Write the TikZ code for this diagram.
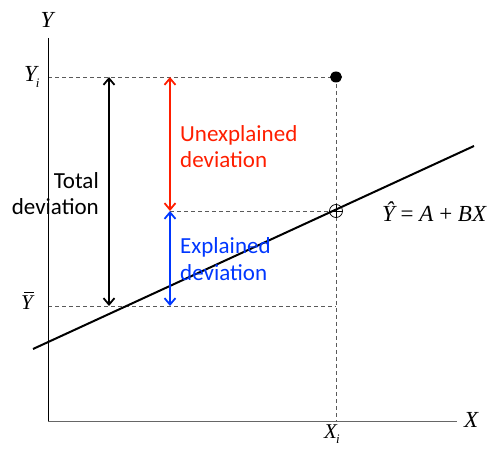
\documentclass[tikz,border=0pt]{standalone}
\usepackage{fontspec}
\setmainfont{Liberation Serif}
\newfontfamily\carlitofont{Carlito}
\usetikzlibrary{arrows.meta,shapes.geometric}
\definecolor{myred}{RGB}{255,30,0}
\definecolor{myblue}{RGB}{0,55,255}
\definecolor{dashgray}{RGB}{90,90,90}
\tikzset{
  dashline/.style={dashgray, dash pattern=on 4pt off 3pt, line width=0.8pt},
  devarrow/.style={line width=1.8pt, {Straight Barb[length=6.5pt,width=11pt]}-{Straight Barb[length=6.5pt,width=11pt]}},
  mathlbl/.style={font=\fontsize{23}{25}\selectfont\itshape, inner sep=0pt},
  smallmath/.style={font=\fontsize{21}{23}\selectfont\itshape, inner sep=0pt},
  txtlbl/.style={font=\carlitofont\fontsize{23}{26}\selectfont, inner sep=0pt, align=left}
}
\newcommand{\subi}{\kern-1pt\raisebox{-0.55ex}{\fontsize{13}{13}\selectfont i}}
\newcommand{\ybarsym}{\makebox[0pt][l]{\kern3pt\rule[17pt]{10pt}{0.9pt}}Y}
\begin{document}
\begin{tikzpicture}[x=1pt,y=-1pt]
\useasboundingbox (0,0) rectangle (493,449);
% coordinates
\coordinate (O) at (48,421);
\coordinate (Ytop) at (48,38);
\coordinate (Xend) at (457,421);
\coordinate (Yi) at (48,77);
\coordinate (Yb) at (48,306);
\coordinate (P) at (336,77);
\coordinate (Q) at (336,211);
\coordinate (Xi) at (336,421);
\coordinate (Ybe) at (336,306);
\coordinate (Hs) at (170,211);
\coordinate (L1) at (33,349);
\coordinate (L2) at (474,146);
\coordinate (A1) at (109,77);
\coordinate (A2) at (109,306);
\coordinate (R1) at (170,77);
\coordinate (R2) at (170,211);
\coordinate (B2) at (170,306);
% dashed
\draw[dashline] (Yi) -- (P);
\draw[dashline] (Yb) -- (Ybe);
\draw[dashline] (Hs) -- (Q);
\draw[dashline] (P) -- (Xi);
% axes
\draw[line width=1pt] (Ytop) -- (O);
\draw[line width=1pt, black!60] (O) -- (Xend);
% regression line
\draw[line width=2pt] (L1) -- (L2);
% points
\node[ellipse, fill=black, minimum width=12pt, minimum height=11pt, inner sep=0pt] (pt) at (P) {};
\node[circle, draw=black, line width=0.7pt, minimum size=13pt, inner sep=0pt] (pq) at (Q) {};
\draw[line width=0.7pt] (pq.west) -- (pq.east) (pq.north) -- (pq.south);
% arrows
\draw[devarrow, black] (A1) -- (A2);
\draw[devarrow, myred] (R1) -- (R2);
\draw[devarrow, myblue] (R2) -- (B2);
% labels
\node[mathlbl, anchor=base] (ly) at (47,28) {Y};
\node[mathlbl, anchor=base west] (lx) at (464,427) {X};
\node[mathlbl, anchor=base west] (lyi) at (24,82) {Y\subi};
\node[smallmath, anchor=base west] (lyb) at (21,310) {\ybarsym};
\node[smallmath, anchor=base west] (lxi) at (324,438) {X\subi};
\node[mathlbl, anchor=base west] (leq) at (382,222) {Ŷ\upshape{} = \itshape A \upshape+ \itshape BX};
\node[txtlbl, align=right, anchor=base east] (ltot) at (99,215) {Total\\deviation};
\node[txtlbl, text=myred, anchor=base west] (lun) at (180,168) {Unexplained\\deviation};
\node[txtlbl, text=myblue, anchor=base west] (lex) at (180,280) {Explained\\deviation};
\end{tikzpicture}
\end{document}
